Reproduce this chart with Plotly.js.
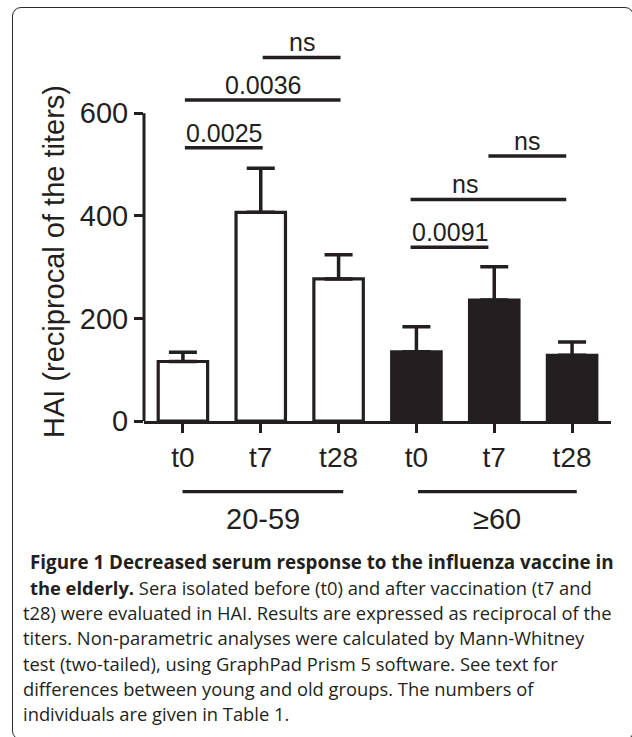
<!DOCTYPE html>
<html><head><meta charset="utf-8">
<script src="https://cdn.plot.ly/plotly-3.0.1.min.js"></script>
<style>
html,body{margin:0;padding:0;background:#fff;}
#wrap{position:relative;width:632px;height:737px;overflow:hidden;}
#chart{width:632px;height:737px;}
#frame{position:absolute;left:12px;top:7px;width:622px;height:733px;border:1.5px solid #2b2b2b;border-radius:9px;pointer-events:none;box-sizing:border-box;}
</style>
</head><body>
<div id="wrap"><div id="chart"></div><div id="frame"></div></div>
<script>
// ---- data ----
const categories = ['t0', 't7', 't28', 't0', 't7', 't28'];
const ageGroups = ['20-59', '≥60'];
const groupMembers = [[0, 1, 2], [3, 4, 5]];
const meanHAI = [116, 407, 277, 135, 236, 128];
const semHAI = [18, 86, 47, 49, 65, 26];
const comparisonFrom = [0, 0, 1, 3, 3, 4];
const comparisonTo = [1, 2, 2, 4, 5, 5];
const comparisonHeight = [533, 626, 709, 339, 432, 517];
const comparisonLabel = ['0.0025', '0.0036', 'ns', '0.0091', 'ns', 'ns'];
const yTicks = [0, 200, 400, 600];
const yTitle = 'HAI (reciprocal of the titers)';
const captionLines = [
  '<b>Figure 1 Decreased serum response to the influenza vaccine in</b>',
  '<b>the elderly.</b> Sera isolated before (t0) and after vaccination (t7 and',
  't28) were evaluated in HAI. Results are expressed as reciprocal of the',
  'titers. Non-parametric analyses were calculated by Mann-Whitney',
  'test (two-tailed), using GraphPad Prism 5 software. See text for',
  'differences between young and old groups. The numbers of',
  'individuals are given in Table 1.'
];

// ---- layout helpers ----
const W = 632, H = 737;
const M = {l: 144, r: 21, t: 20, b: 316};
const plotW = W - M.l - M.r, plotH = H - M.t - M.b;
const px2paperX = px => (px - M.l) / plotW;
const px2paperY = py => (H - M.b - py) / plotH;
const INK = '#231f20';
const FONT = 'Liberation Sans, Arial, sans-serif';
const CAPFONT = 'Open Sans, Noto Sans, sans-serif';
const xIdx = categories.map((c, i) => i);

const traces = groupMembers.map((members, g) => ({
  type: 'bar',
  name: ageGroups[g],
  x: members.map(i => xIdx[i]),
  y: members.map(i => meanHAI[i]),
  width: 0.635,
  marker: {color: g === 0 ? '#ffffff' : INK, line: {color: INK, width: 3.2}},
  error_y: {type: 'data', symmetric: false,
            array: members.map(i => semHAI[i]),
            arrayminus: members.map(() => 0),
            color: INK, thickness: 3.5, width: 14},
  hoverinfo: 'x+y'
}));

const shapes = [];
const annotations = [];
// y axis line only from 0 to 600
shapes.push({type: 'line', xref: 'paper', yref: 'y', x0: 0, x1: 0,
  y0: yTicks[0] - 3, y1: yTicks[yTicks.length - 1], line: {color: INK, width: 3}});

// y axis title
annotations.push({xref: 'paper', yref: 'paper', x: px2paperX(54), y: px2paperY(262),
  text: yTitle, textangle: -90, showarrow: false, xanchor: 'center', yanchor: 'middle',
  font: {family: FONT, size: 29, color: INK}});

// comparison brackets
const groupShift = [0.025, -0.075];
comparisonLabel.forEach((lab, k) => {
  const g = comparisonFrom[k] >= 3 ? 1 : 0;
  const x0 = comparisonFrom[k] + groupShift[g];
  const x1 = comparisonTo[k] + groupShift[g];
  shapes.push({type: 'line', xref: 'x', yref: 'y', x0: x0, x1: x1,
    y0: comparisonHeight[k], y1: comparisonHeight[k], line: {color: INK, width: 3.5}});
  let lx = (x0 + x1) / 2;
  if (comparisonFrom[k] === 3 && comparisonTo[k] === 5) lx -= 0.3;
  annotations.push({xref: 'x', yref: 'y', x: lx, y: comparisonHeight[k],
    text: lab, showarrow: false, xanchor: 'center', yanchor: 'bottom', yshift: -1,
    font: {family: FONT, size: 25, color: INK}});
});

// age group lines + labels
groupMembers.forEach((members, g) => {
  const x0 = members[0] + (g === 0 ? -0.005 : 0.02);
  const x1 = members[members.length - 1] + 0.06;
  const yl = px2paperY(491.7);
  shapes.push({type: 'line', xref: 'x', yref: 'paper', x0: x0, x1: x1, y0: yl, y1: yl,
    line: {color: INK, width: 3.2}});
  annotations.push({xref: 'x', yref: 'paper', x: (x0 + x1) / 2, y: px2paperY(518.5),
    text: ageGroups[g], showarrow: false, xanchor: 'center', yanchor: 'middle',
    font: {family: FONT, size: 29, color: INK}});
});

// caption
const capY0 = 562, capDy = 25.3;
captionLines.forEach((line, i) => {
  const left = i < 2 ? 28 : 21;
  annotations.push({xref: 'paper', yref: 'paper', x: px2paperX(left), y: px2paperY(capY0 + i * capDy),
    text: line, showarrow: false, xanchor: 'left', yanchor: 'middle', align: 'left',
    font: {family: CAPFONT, size: i === 0 ? 18.8 : 18.35, color: INK}});
});

const layout = {
  width: W, height: H,
  margin: M,
  paper_bgcolor: '#ffffff', plot_bgcolor: '#ffffff',
  showlegend: false,
  barmode: 'overlay',
  font: {family: FONT, color: INK},
  xaxis: {range: [-0.5, 5.5], tickmode: 'array', tickvals: xIdx, ticktext: categories,
    ticks: 'outside', ticklen: 9, tickwidth: 3, tickcolor: INK,
    showline: true, linewidth: 3, linecolor: INK, showgrid: false, zeroline: false,
    tickfont: {family: FONT, size: 28, color: INK}, fixedrange: true},
  yaxis: {range: [0, 782], tickmode: 'array', tickvals: yTicks,
    ticks: 'outside', ticklen: 9, tickwidth: 3, tickcolor: INK,
    showline: false, showgrid: false, zeroline: false,
    tickfont: {family: FONT, size: 29, color: INK},
    fixedrange: true},
  shapes: shapes,
  annotations: annotations
};

Plotly.newPlot('chart', traces, layout, {displayModeBar: false, staticPlot: true});
</script>
</body></html>
